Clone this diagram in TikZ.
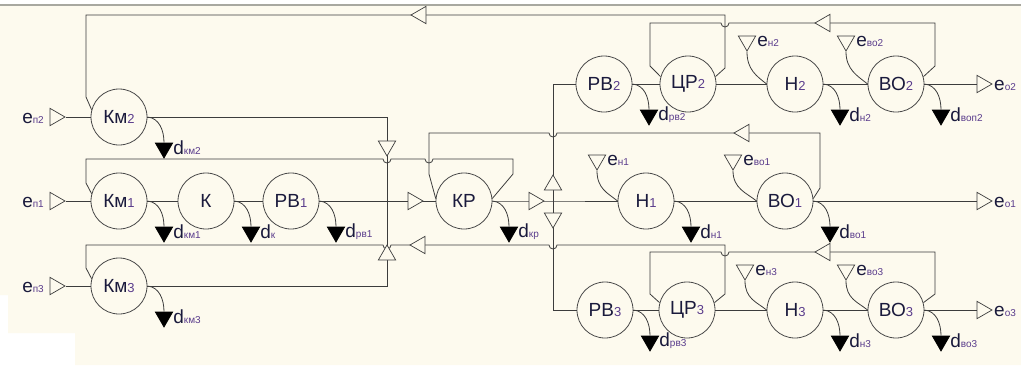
\documentclass[tikz,border=0pt]{standalone}
\usepackage{fontspec}
\setmainfont{Liberation Sans}
\usetikzlibrary{shapes.geometric,positioning}
\definecolor{paper}{HTML}{FDFAEE}
\definecolor{wire}{HTML}{3C3C3C}
\definecolor{ring}{HTML}{4A4A4A}
\definecolor{ink}{HTML}{1A1A3C}
\definecolor{subink}{HTML}{5A3C8C}
\definecolor{rulegray}{HTML}{A8A8A0}
\newcommand\ix[1]{{\color{subink}\fontsize{13}{13}\selectfont #1}}
\newcommand\lbl[2]{#1{\color{subink}\fontsize{10}{10}\selectfont #2}}
\tikzset{
  blk/.style={circle, draw=ring, line width=0.8pt, minimum size=56pt, inner sep=0pt, fill=paper, text=ink, font=\fontsize{19}{19}\selectfont},
  ln/.style={draw=wire, line width=0.8pt},
  otri/.style={isosceles triangle, isosceles triangle apex angle=60, draw=wire, fill=paper, line width=0.7pt, inner sep=0pt, minimum width=15pt, minimum height=15pt},
  ftri/.style={otri, fill=black, draw=black, shape border rotate=270},
  etri/.style={otri, shape border rotate=270},
  lab/.style={text=ink, inner sep=1pt, font=\fontsize{19}{19}\selectfont},
}
\begin{document}
\begin{tikzpicture}[x=1pt,y=-1pt]
        \useasboundingbox (0,0) rectangle (1021,365);
        \fill[white] (0,0) rectangle (1021,365);
        \fill[paper] (0,6) -- (1021,6) -- (1021,365) -- (75,365) -- (75,333) -- (8,333) -- (8,295) -- (0,295) -- cycle;
        \draw[rulegray, line width=2pt] (0,5) -- (1021,5);
        % blocks
        \node[blk] (km2) at (119,117) {Км\ix{2}};
        \node[blk] (km1) at (119,201) {Км\ix{1}};
        \node[blk] (k) at (206,201) {К};
        \node[blk] (rv1) at (291,201) {РВ\ix{1}};
        \node[blk] (km3) at (119,286) {Км\ix{3}};
        \node[blk] (kr) at (464,201) {КР};
        \node[blk] (n1) at (646,201) {Н\ix{1}};
        \node[blk] (vo1) at (785,201) {ВО\ix{1}};
        \node[blk] (rv2) at (604,84) {РВ\ix{2}};
        \node[blk] (cr2) at (688,84) {ЦР\ix{2}};
        \node[blk] (n2) at (795,84) {Н\ix{2}};
        \node[blk] (vo2) at (896,84) {ВО\ix{2}};
        \node[blk] (rv3) at (605,310) {РВ\ix{3}};
        \node[blk] (cr3) at (687,310) {ЦР\ix{3}};
        \node[blk] (n3) at (795,310) {Н\ix{3}};
        \node[blk] (vo3) at (896,310) {ВО\ix{3}};
        \coordinate (j1) at (387,201);
        \coordinate (j2) at (553,201);
        % inputs and outputs
        \node[otri] (ep2) at (55,117) {};
        \node[otri] (ep1) at (55,201) {};
        \node[otri] (ep3) at (55,286) {};
        \node[lab, anchor=east] (lep2) at (45,118) {\lbl{e}{п2}};
        \node[lab, anchor=east] (lep1) at (45,202) {\lbl{e}{п1}};
        \node[lab, anchor=east] (lep3) at (45,287) {\lbl{e}{п3}};
        \node[otri] (eo2) at (982,84) {};
        \node[otri] (eo1) at (982,201) {};
        \node[otri] (eo3) at (982,310) {};
        \node[lab, anchor=west] (leo2) at (993,85) {\lbl{e}{о2}};
        \node[lab, anchor=west] (leo1) at (993,202) {\lbl{e}{о1}};
        \node[lab, anchor=west] (leo3) at (993,311) {\lbl{e}{о3}};
        % main lines
        \draw[ln] (ep2.apex) -- (km2);
        \draw[ln] (ep3.apex) -- (km3);
        \draw[ln] (ep1.apex) -- (km1) -- (k) -- (rv1) -- (kr);
        \draw[ln] (km2) -| (j1);
        \draw[ln] (km3) -| (j1);
        \draw[ln] (kr) -- (j2) -- (n1) -- (vo1) -- (eo1);
        \draw[ln] (rv2) -| (j2);
        \draw[ln] (rv3) -| (j2);
        \draw[ln] (rv2) -- (cr2) -- (n2) -- (vo2) -- (eo2);
        \draw[ln] (rv3) -- (cr3) -- (n3) -- (vo3) -- (eo3);
        % feedback lines
        \draw[ln] (cr2.15) -- (725,68) -- (725,15) -- (86,15) -- (86,97) -- (km2.165);
        \draw[ln] (vo2.15) -- (935,66) -- (935,23) -- (729,23) arc[start angle=0,end angle=180,radius=4] -- (650,23) -- (650,66) -- (cr2.165);
        \draw[ln] (vo1.5) -- (820,188) -- (820,133) -- (557,133) arc[start angle=0,end angle=180,radius=4] -- (429,133) -- (429,174) -- (kr.175);
        \draw[ln] (kr.5) -- (513,174) -- (513,159) -- (433,159) arc[start angle=0,end angle=180,radius=4] -- (391,159) arc[start angle=0,end angle=180,radius=4] -- (86,159) -- (86,183) -- (km1.165);
        \draw[ln] (cr3.15) -- (725,294) -- (725,245) -- (557,245) arc[start angle=0,end angle=180,radius=4] -- (391,245) arc[start angle=0,end angle=180,radius=4] -- (86,245) -- (86,268) -- (km3.165);
        \draw[ln] (vo3.15) -- (935,294) -- (935,252) -- (729,252) arc[start angle=0,end angle=180,radius=4] -- (650,252) -- (650,294) -- (cr3.165);
        % arrows on lines
        \node[otri] (tin) at (413,201) {};
        \node[otri] (tout) at (534,201) {};
        \node[otri, shape border rotate=270] (tj1a) at (387,146) {};
        \node[otri, shape border rotate=90] (tj1b) at (387,255) {};
        \node[otri, shape border rotate=90] (tj2a) at (553,185) {};
        \node[otri, shape border rotate=270] (tj2b) at (553,218) {};
        \node[otri, shape border rotate=180] (tfb2) at (421,15) {};
        \node[otri, shape border rotate=180] (tfb1) at (744,133) {};
        \node[otri, shape border rotate=180] (tfb3) at (420,245) {};
        \node[otri, shape border rotate=180] (tvo2) at (825,23) {};
        \node[otri, shape border rotate=180] (tvo3) at (825,252) {};
        % disturbances e
        \node[etri] (en1) at (597,160) {};
        \node[etri] (evo1) at (733,160) {};
        \node[etri] (en2) at (747,41) {};
        \node[etri] (evo2) at (846,41) {};
        \node[etri] (en3) at (745,270) {};
        \node[etri] (evo3) at (846,270) {};
        \draw[ln] (en1.apex) .. controls +(0,18) and +(-10,-8) .. (n1.west);
        \draw[ln] (evo1.apex) .. controls +(0,18) and +(-10,-8) .. (vo1.west);
        \draw[ln] (en2.apex) .. controls +(0,18) and +(-10,-8) .. (n2.west);
        \draw[ln] (evo2.apex) .. controls +(0,18) and +(-10,-8) .. (vo2.west);
        \draw[ln] (en3.apex) .. controls +(0,18) and +(-10,-8) .. (n3.west);
        \draw[ln] (evo3.apex) .. controls +(0,18) and +(-10,-8) .. (vo3.west);
        \node[lab, right=3pt of en1] (len1) {\lbl{e}{н1}};
        \node[lab, right=3pt of evo1] (levo1) {\lbl{e}{во1}};
        \node[lab, right=3pt of en2] (len2) {\lbl{e}{н2}};
        \node[lab, right=3pt of evo2] (levo2) {\lbl{e}{во2}};
        \node[lab, right=3pt of en3] (len3) {\lbl{e}{н3}};
        \node[lab, right=3pt of evo3] (levo3) {\lbl{e}{во3}};
        % losses d
        \node[ftri] (dkm2) at (164,148) {};
        \node[ftri] (dkm1) at (164,232) {};
        \node[ftri] (dk) at (251,232) {};
        \node[ftri] (drv1) at (336,232) {};
        \node[ftri] (dkm3) at (164,317) {};
        \node[ftri] (dkr) at (509,232) {};
        \node[ftri] (dn1) at (691,232) {};
        \node[ftri] (dvo1) at (830,232) {};
        \node[ftri] (drv2) at (649,115) {};
        \node[ftri] (dn2) at (840,115) {};
        \node[ftri] (dvo2) at (941,115) {};
        \node[ftri] (drv3) at (650,341) {};
        \node[ftri] (dn3) at (840,341) {};
        \node[ftri] (dvo3) at (941,341) {};
        \foreach \s/\t in {km2/dkm2,km1/dkm1,k/dk,rv1/drv1,km3/dkm3,kr/dkr,n1/dn1,vo1/dvo1,rv2/drv2,n2/dn2,vo2/dvo2,rv3/drv3,n3/dn3,vo3/dvo3}
            \draw[ln] (\s.east) .. controls +(12,1) and +(0,-12) .. (\t.north);
        \node[lab, right=2pt of dkm2] (ldkm2) {\lbl{d}{км2}};
        \node[lab, right=2pt of dkm1] (ldkm1) {\lbl{d}{км1}};
        \node[lab, right=2pt of dk] (ldk) {\lbl{d}{к}};
        \node[lab, right=2pt of drv1] (ldrv1) {\lbl{d}{рв1}};
        \node[lab, right=2pt of dkm3] (ldkm3) {\lbl{d}{км3}};
        \node[lab, right=2pt of dkr] (ldkr) {\lbl{d}{кр}};
        \node[lab, right=2pt of dn1] (ldn1) {\lbl{d}{н1}};
        \node[lab, right=2pt of dvo1] (ldvo1) {\lbl{d}{во1}};
        \node[lab, right=2pt of drv2] (ldrv2) {\lbl{d}{рв2}};
        \node[lab, right=2pt of dn2] (ldn2) {\lbl{d}{н2}};
        \node[lab, right=2pt of dvo2] (ldvo2) {\lbl{d}{воп2}};
        \node[lab, right=2pt of drv3] (ldrv3) {\lbl{d}{рв3}};
        \node[lab, right=2pt of dn3] (ldn3) {\lbl{d}{н3}};
        \node[lab, right=2pt of dvo3] (ldvo3) {\lbl{d}{во3}};
\end{tikzpicture}
\end{document}
